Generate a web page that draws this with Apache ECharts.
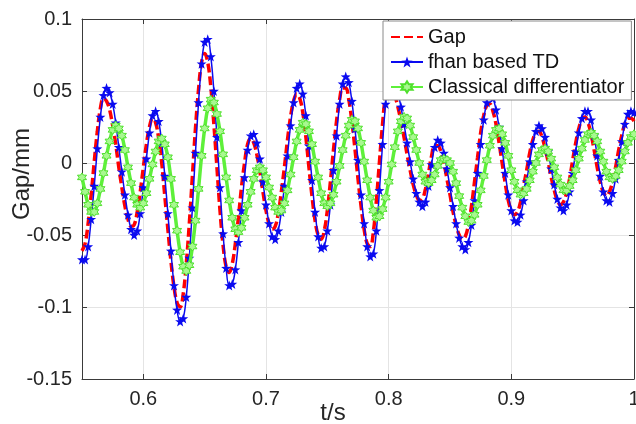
<!DOCTYPE html>
<html><head><meta charset="utf-8">
<script src="https://cdn.jsdelivr.net/npm/echarts@6/dist/echarts.min.js"></script>
<style>html,body{margin:0;padding:0;background:#fff}#c{width:636px;height:424px}</style>
</head><body><div id="c"></div>
<script>
// sampling grid of the recorded signals (s)
const tStart = 0.55, tStep = 0.0025;
const xRange = [0.55, 1.0];
const yRange = [-0.15, 0.1];
const yInterval = 0.05;
const seriesNames = ['Gap', 'fhan based TD', 'Classical differentiator'];

const gap = [
 -0.061,-0.056,-0.042,-0.022,0.001,0.022,0.038,0.045,0.043,0.037,0.026,0.013,-0.003,-0.017,-0.030,-0.039,-0.044,-0.043,-0.034,-0.020,
 -0.003,0.013,0.025,0.031,0.028,0.017,0.000,-0.023,-0.046,-0.068,-0.086,-0.097,-0.100,-0.091,-0.070,-0.042,-0.009,0.024,0.051,0.070,
 0.076,0.070,0.053,0.027,-0.003,-0.033,-0.057,-0.072,-0.076,-0.070,-0.056,-0.038,-0.017,0.000,0.013,0.017,0.014,0.006,-0.006,-0.020,
 -0.033,-0.042,-0.046,-0.044,-0.035,-0.020,-0.003,0.016,0.032,0.043,0.048,0.045,0.035,0.018,-0.003,-0.023,-0.040,-0.050,-0.053,-0.047,
 -0.033,-0.013,0.009,0.029,0.044,0.052,0.052,0.044,0.029,0.010,-0.011,-0.030,-0.046,-0.056,-0.058,-0.048,-0.026,0.001,0.027,0.047,
 0.054,0.052,0.047,0.039,0.029,0.018,0.006,-0.005,-0.015,-0.022,-0.026,-0.025,-0.018,-0.007,0.005,0.012,0.012,0.008,0.000,-0.011,
 -0.022,-0.034,-0.043,-0.050,-0.053,-0.051,-0.043,-0.030,-0.013,0.004,0.021,0.033,0.040,0.041,0.036,0.027,0.014,0.000,-0.014,-0.026,
 -0.033,-0.036,-0.034,-0.027,-0.016,-0.005,0.007,0.016,0.021,0.022,0.018,0.010,0.001,-0.010,-0.019,-0.026,-0.029,-0.027,-0.021,-0.011,
 0.002,0.014,0.024,0.030,0.032,0.028,0.020,0.009,-0.003,-0.013,-0.020,-0.023,-0.020,-0.013,-0.003,0.009,0.019,0.027,0.031,0.031,
 0.029
];
const fhanTD = [
 -0.067,-0.067,-0.058,-0.039,-0.016,0.010,0.032,0.047,0.052,0.049,0.041,0.028,0.011,-0.006,-0.022,-0.036,-0.046,-0.050,-0.047,-0.035,
 -0.017,0.003,0.021,0.033,0.036,0.029,0.014,-0.009,-0.035,-0.061,-0.085,-0.102,-0.110,-0.108,-0.093,-0.066,-0.031,0.007,0.042,0.069,
 0.084,0.086,0.074,0.050,0.018,-0.017,-0.049,-0.073,-0.085,-0.084,-0.074,-0.055,-0.033,-0.010,0.009,0.019,0.020,0.014,0.003,-0.013,
 -0.029,-0.042,-0.051,-0.053,-0.047,-0.034,-0.016,0.005,0.026,0.042,0.052,0.055,0.048,0.033,0.012,-0.012,-0.034,-0.051,-0.059,-0.058,
 -0.047,-0.029,-0.005,0.019,0.041,0.055,0.060,0.056,0.043,0.024,0.002,-0.022,-0.042,-0.058,-0.065,-0.063,-0.047,-0.019,0.013,0.041,
 0.057,0.060,0.056,0.049,0.039,0.027,0.014,0.001,-0.011,-0.021,-0.027,-0.030,-0.027,-0.016,-0.001,0.011,0.016,0.014,0.007,-0.004,
 -0.017,-0.030,-0.042,-0.052,-0.058,-0.060,-0.055,-0.043,-0.026,-0.007,0.013,0.030,0.042,0.047,0.045,0.037,0.025,0.010,-0.007,-0.022,
 -0.033,-0.040,-0.041,-0.036,-0.026,-0.013,0.001,0.013,0.022,0.026,0.024,0.018,0.008,-0.004,-0.015,-0.025,-0.031,-0.033,-0.029,-0.020,
 -0.007,0.008,0.021,0.031,0.036,0.036,0.030,0.019,0.005,-0.009,-0.020,-0.026,-0.027,-0.021,-0.011,0.002,0.015,0.027,0.034,0.036,
 0.035
];
const classical = [
 -0.010,-0.020,-0.029,-0.034,-0.034,-0.028,-0.018,-0.007,0.005,0.015,0.023,0.026,0.024,0.019,0.009,-0.003,-0.014,-0.024,-0.029,-0.031,
 -0.028,-0.021,-0.011,-0.001,0.008,0.015,0.017,0.013,0.004,-0.011,-0.029,-0.047,-0.062,-0.072,-0.075,-0.071,-0.058,-0.040,-0.018,0.005,
 0.024,0.038,0.044,0.042,0.034,0.022,0.006,-0.010,-0.026,-0.038,-0.046,-0.048,-0.045,-0.038,-0.029,-0.020,-0.011,-0.005,-0.003,-0.005,
 -0.010,-0.017,-0.024,-0.031,-0.034,-0.033,-0.028,-0.019,-0.008,0.004,0.015,0.023,0.028,0.027,0.022,0.013,0.001,-0.010,-0.021,-0.028,
 -0.030,-0.028,-0.022,-0.013,-0.002,0.009,0.019,0.026,0.030,0.029,0.024,0.014,0.001,-0.012,-0.024,-0.033,-0.038,-0.037,-0.032,-0.024,
 -0.013,-0.001,0.011,0.022,0.029,0.032,0.031,0.026,0.018,0.009,0.000,-0.008,-0.013,-0.014,-0.012,-0.008,-0.002,0.002,0.003,0.002,
 0.000,-0.006,-0.014,-0.023,-0.031,-0.037,-0.041,-0.040,-0.036,-0.029,-0.019,-0.009,0.002,0.012,0.019,0.023,0.024,0.020,0.014,0.005,
 -0.005,-0.013,-0.019,-0.022,-0.021,-0.018,-0.012,-0.006,0.000,0.006,0.009,0.010,0.008,0.003,-0.003,-0.010,-0.015,-0.019,-0.019,-0.016,
 -0.012,-0.005,0.003,0.010,0.016,0.020,0.021,0.019,0.015,0.008,0.001,-0.006,-0.010,-0.011,-0.009,-0.005,0.001,0.008,0.014,0.018,
 0.020
];

const pair = arr => arr.map((v, i) => [+(tStart + i * tStep).toFixed(4), v]);

const FONT = '"Liberation Sans", Arial, Helvetica, sans-serif';
const AX = '#3a3a3a';
const starPath = 'path://M0,-10 L2.35,-3.24 L9.51,-3.09 L3.8,1.24 L5.88,8.09 L0,4 L-5.88,8.09 L-3.8,1.24 L-9.51,-3.09 L-2.35,-3.24 Z';
const hexPath = 'path://M0,-10 L2.89,-5 L8.66,-5 L5.77,0 L8.66,5 L2.89,5 L0,10 L-2.89,5 L-8.66,5 L-5.77,0 L-8.66,-5 L-2.89,-5 Z';

const chart = echarts.init(document.getElementById('c'), null, {renderer: 'canvas'});
const baseAxis = {
  axisLine: {show: true, onZero: false, lineStyle: {color: AX, width: 1}},
  axisTick: {show: true, inside: true, length: 5, lineStyle: {color: AX, width: 1}},
};
chart.setOption({
  animation: false,
  backgroundColor: '#fff',
  textStyle: {fontFamily: FONT},
  grid: {left: 82, right: 2, top: 19, bottom: 45, containLabel: false, outerBoundsMode: 'none'},
  legend: {
    orient: 'vertical', left: 383, top: 21,
    padding: [6, 7, 3, 7], itemGap: 5, itemWidth: 32, itemHeight: 14,
    backgroundColor: '#fff', borderColor: '#8a8a8a', borderWidth: 1,
    textStyle: {fontSize: 20, lineHeight: 20, color: '#111', fontFamily: FONT},
    data: [
      {name: seriesNames[0], itemStyle: {color: 'rgba(0,0,0,0)', borderWidth: 0, opacity: 0}},
      {name: seriesNames[1]},
      {name: seriesNames[2]}
    ],
    selectedMode: false
  },
  xAxis: [
    Object.assign({}, baseAxis, {
      type: 'value', min: xRange[0], max: xRange[1], position: 'bottom',
      axisLabel: {showMinLabel: false, fontSize: 20, color: '#262626', margin: 10, fontFamily: FONT},
      splitLine: {show: true, lineStyle: {color: '#e4e4e4', width: 1}},
      name: 't/s', nameLocation: 'middle', nameGap: 22, nameMoveOverlap: false,
      nameTextStyle: {fontSize: 24, color: '#262626', fontFamily: FONT, padding: [0, 50, 0, 0]}
    }),
    Object.assign({}, baseAxis, {
      type: 'value', min: xRange[0], max: xRange[1], position: 'top',
      axisLabel: {show: false}, splitLine: {show: false}
    })
  ],
  yAxis: [
    Object.assign({}, baseAxis, {
      type: 'value', min: yRange[0], max: yRange[1], interval: yInterval, position: 'left',
      axisLabel: {fontSize: 20, color: '#262626', margin: 10, fontFamily: FONT},
      splitLine: {show: true, lineStyle: {color: '#e4e4e4', width: 1}},
      name: 'Gap/mm', nameLocation: 'middle', nameGap: 48, nameMoveOverlap: false,
      nameTextStyle: {fontSize: 24, color: '#262626', fontFamily: FONT, padding: [0, 0, 0, 50]}
    }),
    Object.assign({}, baseAxis, {
      type: 'value', min: yRange[0], max: yRange[1], interval: yInterval, position: 'right',
      axisLabel: {show: false}, splitLine: {show: false}
    })
  ],
  series: [
    {
      name: seriesNames[0], type: 'line', data: pair(gap), smooth: 0.4,
      symbol: 'none', silent: true,
      lineStyle: {color: '#ff0000', width: 3.5, type: [9, 4]},
      itemStyle: {color: '#ff0000'}, z: 2
    },
    {
      name: seriesNames[1], type: 'line', data: pair(fhanTD), smooth: 0.4,
      symbol: starPath, symbolSize: 10, showSymbol: true, showAllSymbol: true, silent: true,
      lineStyle: {color: '#0a0af0', width: 1.5},
      itemStyle: {color: '#0a0af0'}, z: 3
    },
    {
      name: seriesNames[2], type: 'line', data: pair(classical), smooth: 0.4,
      symbol: hexPath, symbolSize: 9, showSymbol: true, showAllSymbol: true, silent: true,
      lineStyle: {color: '#5ef03a', width: 3.5},
      itemStyle: {color: '#a8f890', borderColor: '#4fe02c', borderWidth: 1}, z: 4
    }
  ]
});
</script></body></html>
